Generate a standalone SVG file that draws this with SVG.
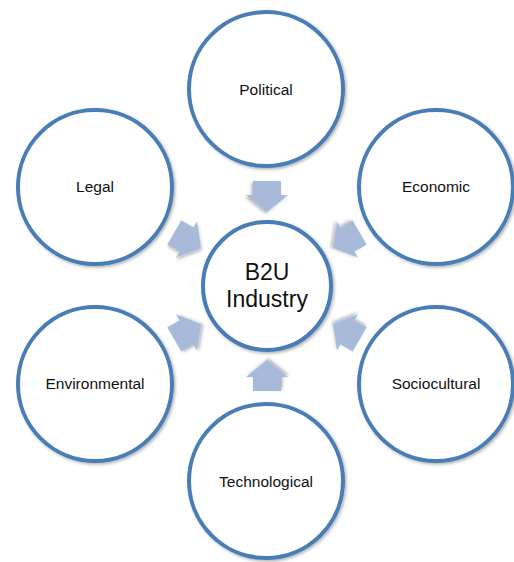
<svg xmlns="http://www.w3.org/2000/svg" width="514" height="562" viewBox="0 0 514 562">
  <defs>
    <filter id="sh" x="-20%" y="-20%" width="140%" height="140%">
      <feDropShadow dx="1.5" dy="1.5" stdDeviation="1.5" flood-color="#000" flood-opacity="0.3"/>
    </filter>
    <path id="arr" d="M-31,-14 L-17,-14 L-17,-21 L0,0 L-17,21 L-17,14 L-31,14 Z"/>
  </defs>
  <style>
    .c { fill: #ffffff; stroke: #4A7DB6; stroke-width: 4; filter: url(#sh); }
    .t { font-family: "Liberation Sans", Arial, sans-serif; font-size: 15.5px; fill: #111111; text-anchor: middle; }
    .ct { font-family: "Liberation Sans", Arial, sans-serif; font-size: 23px; fill: #111111; text-anchor: middle; }
    .a { fill: #A7BADA; filter: url(#sh); }
  </style>
  <rect width="514" height="562" fill="#ffffff"/>

  <g id="connectors">
    <use href="#arr" class="a" transform="translate(267,286) rotate(90) translate(-74,0)"/>
    <use href="#arr" class="a" transform="translate(267,286) rotate(-90) translate(-74,0)"/>
    <use href="#arr" class="a" transform="translate(267,286) rotate(30) translate(-76,0)"/>
    <use href="#arr" class="a" transform="translate(267,286) rotate(150) translate(-76,0)"/>
    <use href="#arr" class="a" transform="translate(267,286) rotate(-30) translate(-76,0)"/>
    <use href="#arr" class="a" transform="translate(267,286) rotate(-150) translate(-76,0)"/>
  </g>

  <g id="political">
    <circle class="c" cx="266" cy="89" r="77"/>
    <text class="t" x="266" y="95">Political</text>
  </g>
  <g id="economic">
    <circle class="c" cx="436" cy="187" r="77"/>
    <text class="t" x="436" y="192">Economic</text>
  </g>
  <g id="legal">
    <circle class="c" cx="95" cy="187" r="77"/>
    <text class="t" x="95" y="192">Legal</text>
  </g>
  <g id="environmental">
    <circle class="c" cx="95" cy="384" r="77"/>
    <text class="t" x="95" y="389">Environmental</text>
  </g>
  <g id="sociocultural">
    <circle class="c" cx="436" cy="384" r="77"/>
    <text class="t" x="436" y="389">Sociocultural</text>
  </g>
  <g id="technological">
    <circle class="c" cx="266" cy="481" r="77"/>
    <text class="t" x="266" y="487">Technological</text>
  </g>
  <g id="center">
    <circle class="c" cx="267" cy="286" r="64"/>
    <text class="ct" x="267" y="280">B2U</text>
    <text class="ct" x="267" y="307">Industry</text>
  </g>
</svg>
